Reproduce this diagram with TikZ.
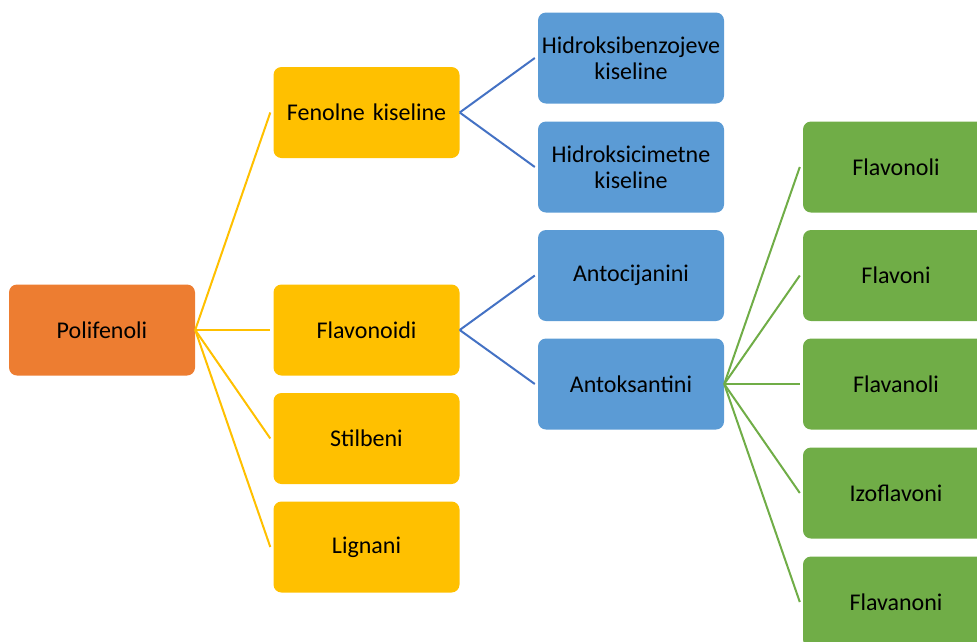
\documentclass[tikz,border=0pt]{standalone}
\usepackage{fontspec}
\setmainfont{Carlito}
\definecolor{corange}{HTML}{ED7D31}
\definecolor{cyellow}{HTML}{FFC000}
\definecolor{cblue}{HTML}{5B9BD5}
\definecolor{cgreen}{HTML}{70AD47}
\definecolor{cbline}{HTML}{4472C4}
\tikzset{
  box/.style={rounded corners=8pt, minimum width=186pt, minimum height=91pt,
    inner sep=0pt, text width=184pt, align=center,
    font=\fontsize{24pt}{26pt}\selectfont, text=black},
  orangebox/.style={box, fill=corange},
  yellowbox/.style={box, fill=cyellow},
  bluebox/.style={box, fill=cblue},
  greenbox/.style={box, fill=cgreen},
  yline/.style={draw=cyellow, line width=2pt},
  bline/.style={draw=cbline, line width=2pt},
  gline/.style={draw=cgreen, line width=2pt},
}
\begin{document}
\begin{tikzpicture}[x=1pt,y=-1pt]
\useasboundingbox (0,0) rectangle (977,641);
\clip (0,0) rectangle (977,641);
\node[orangebox] (pol) at (102,330) {Polifenoli};
\node[yellowbox] (fen) at (366.5,112.5) {Fenolne kiseline};
\node[yellowbox] (flv) at (366.5,330) {Flavonoidi};
\node[yellowbox] (sti) at (366.5,438.5) {Stilbeni};
\node[yellowbox] (lig) at (366.5,547) {Lignani};
\node[bluebox] (hb) at (631,58) {Hidroksibenzojeve\\kiseline};
\node[bluebox] (hc) at (631,167) {Hidroksicimetne\\kiseline};
\node[bluebox] (ac) at (631,275.5) {Antocijanini};
\node[bluebox] (ak) at (631,384) {Antoksantini};
\node[greenbox] (g1) at (896,167) {Flavonoli};
\node[greenbox] (g2) at (896,275.5) {Flavoni};
\node[greenbox] (g3) at (896,384) {Flavanoli};
\node[greenbox] (g4) at (896,493) {Izoflavoni};
\node[greenbox] (g5) at (896,602) {Flavanoni};
\foreach \c in {fen,flv,sti,lig}
  \draw[yline] (pol.east) -- ([xshift=-3pt]\c.west);
\foreach \c in {hb,hc}
  \draw[bline] (fen.east) -- ([xshift=-3pt]\c.west);
\foreach \c in {ac,ak}
  \draw[bline] (flv.east) -- ([xshift=-3pt]\c.west);
\foreach \c in {g1,g2,g3,g4,g5}
  \draw[gline] (ak.east) -- ([xshift=-3pt]\c.west);
\end{tikzpicture}
\end{document}
